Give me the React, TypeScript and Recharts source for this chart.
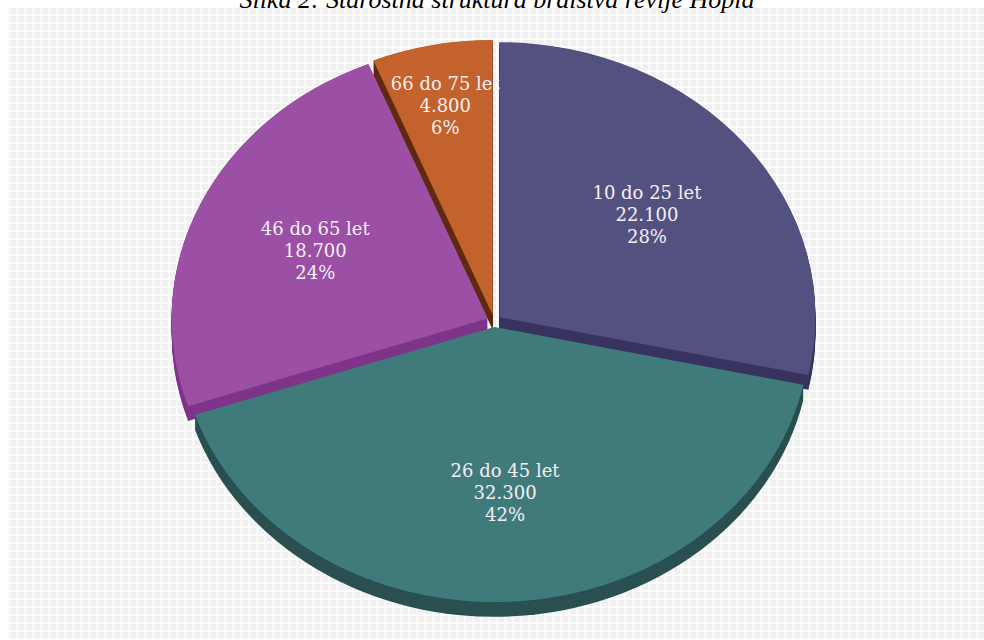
import React from "react";
import {Cell, Pie, PieChart} from "recharts";

// readers by age group
const ageGroups = ["10 do 25 let", "26 do 45 let", "46 do 65 let", "66 do 75 let"];
const readers = [22100, 32300, 18700, 4800];

const topColors = ["#52517f", "#407b7c", "#9b4fa5", "#c4622d"];
const sideColors = ["#39335f", "#2a5052", "#7e3589", "#5e2a10"];

const TILT = 0.87;          // vertical squash of the disc
const CHART_W = 984;
const CHART_H = Math.round(640 / TILT);
const CX = 494;
const CY = 321 / TILT;
const RADIUS = 316;
const EXPLODE = 7;          // every slice pulled out a little
const DEPTH = 17;           // thickness of the disc (unscaled units)
const DEPTH_STEP = 1.5;
const RAD = Math.PI / 180;

const data = ageGroups.map((name, i) => ({name, value: readers[i]}));
const total = readers.reduce((a, b) => a + b, 0);

// whole percentages that still add up to 100 (largest remainder)
function roundedShares(values: number[]) {
    const raw = values.map(v => v / total * 100);
    const out = raw.map(Math.floor);
    let rest = 100 - out.reduce((a, b) => a + b, 0);
    const order = raw.map((_, i) => i).sort((a, b) => (raw[b] - out[b]) - (raw[a] - out[a]));
    for (const i of order) {
        if (rest <= 0) break;
        out[i]++;
        rest--;
    }
    return out;
}

const shares = roundedShares(readers);
const fmt = (v: number) => v.toString().replace(/\B(?=(\d{3})+(?!\d))/g, ".");

// offset of each exploded slice along its middle angle
let acc = 0;
const offsets = readers.map(v => {
    const mid = 90 - 360 * (acc + v / 2) / total;
    acc += v;
    return {dx: EXPLODE * Math.cos(mid * RAD), dy: -EXPLODE * Math.sin(mid * RAD)};
});

function cellsFor(slice: number, colors: string[]) {
    return data.map((_, j) => <Cell key={j} fill={j === slice ? colors[j] : "none"}/>);
}

function renderLabel(props: any, slice: number) {
    const {cx, cy, midAngle, outerRadius, index, value, name} = props;
    if (index !== slice) return null;
    const r = outerRadius * (shares[index] < 10 ? 0.78 : 0.6);
    const x = cx + r * Math.cos(-midAngle * RAD);
    const y = cy + r * Math.sin(-midAngle * RAD);
    return (
        <text transform={`translate(${x},${y}) scale(1,${1 / TILT})`} textAnchor="middle"
              dominantBaseline="central" fill="#f5eff5" fontFamily="'DejaVu Serif', serif" fontSize={18}>
            <tspan x={0} y={-22}>{name}</tspan>
            <tspan x={0} y={0}>{fmt(value)}</tspan>
            <tspan x={0} y={22}>{shares[index]}%</tspan>
        </text>
    );
}

const pieBase = {
    data,
    dataKey: "value",
    nameKey: "name",
    outerRadius: RADIUS,
    startAngle: 90,
    endAngle: -270,
    stroke: "none",
    isAnimationActive: false,
    labelLine: false,
};

export default function App() {
    const sides = [];
    for (let d = DEPTH; d > 0; d -= DEPTH_STEP) {
        for (let i = 0; i < data.length; i++) {
            sides.push(
                <Pie key={`side-${d}-${i}`} {...pieBase}
                     cx={CX + offsets[i].dx} cy={CY + offsets[i].dy + d}>
                    {cellsFor(i, sideColors)}
                </Pie>
            );
        }
    }
    // smallest slice first so the neighbour covers its overflowing label
    const tops = [3, 2, 1, 0].map(i => (
        <Pie key={`top-${i}`} {...pieBase}
             cx={CX + offsets[i].dx} cy={CY + offsets[i].dy}
             label={(p: any) => renderLabel(p, i)}>
            {cellsFor(i, topColors)}
        </Pie>
    ));

    return (
        <div style={{position: "fixed", left: 0, top: 0, width: 984, height: 640, background: "#fff", overflow: "hidden"}}>
            <div style={{
                position: "absolute", left: 8, top: 8, right: 0, bottom: 0,
                backgroundColor: "#f0f0f0",
                backgroundImage: "repeating-linear-gradient(0deg, rgba(255,255,255,0.7) 0 2px, transparent 2px 8px)," +
                    "repeating-linear-gradient(90deg, rgba(255,255,255,0.7) 0 2px, transparent 2px 8px)",
            }}/>
            <div style={{
                position: "absolute", left: 0, top: 0, width: CHART_W, height: CHART_H,
                transform: `scaleY(${TILT})`, transformOrigin: "0 0",
            }}>
                <PieChart width={CHART_W} height={CHART_H} margin={{top: 0, right: 0, bottom: 0, left: 0}}>
                    {sides}
                    {tops}
                </PieChart>
            </div>
            <div style={{
                position: "absolute", left: 5, top: -15, width: 984, textAlign: "center",
                fontFamily: "'Liberation Serif', 'Times New Roman', serif", fontStyle: "italic",
                fontSize: 26, color: "#000", whiteSpace: "nowrap",
            }}>
                Slika 2: Starostna struktura bralstva revije Hopla
            </div>
        </div>
    );
}
